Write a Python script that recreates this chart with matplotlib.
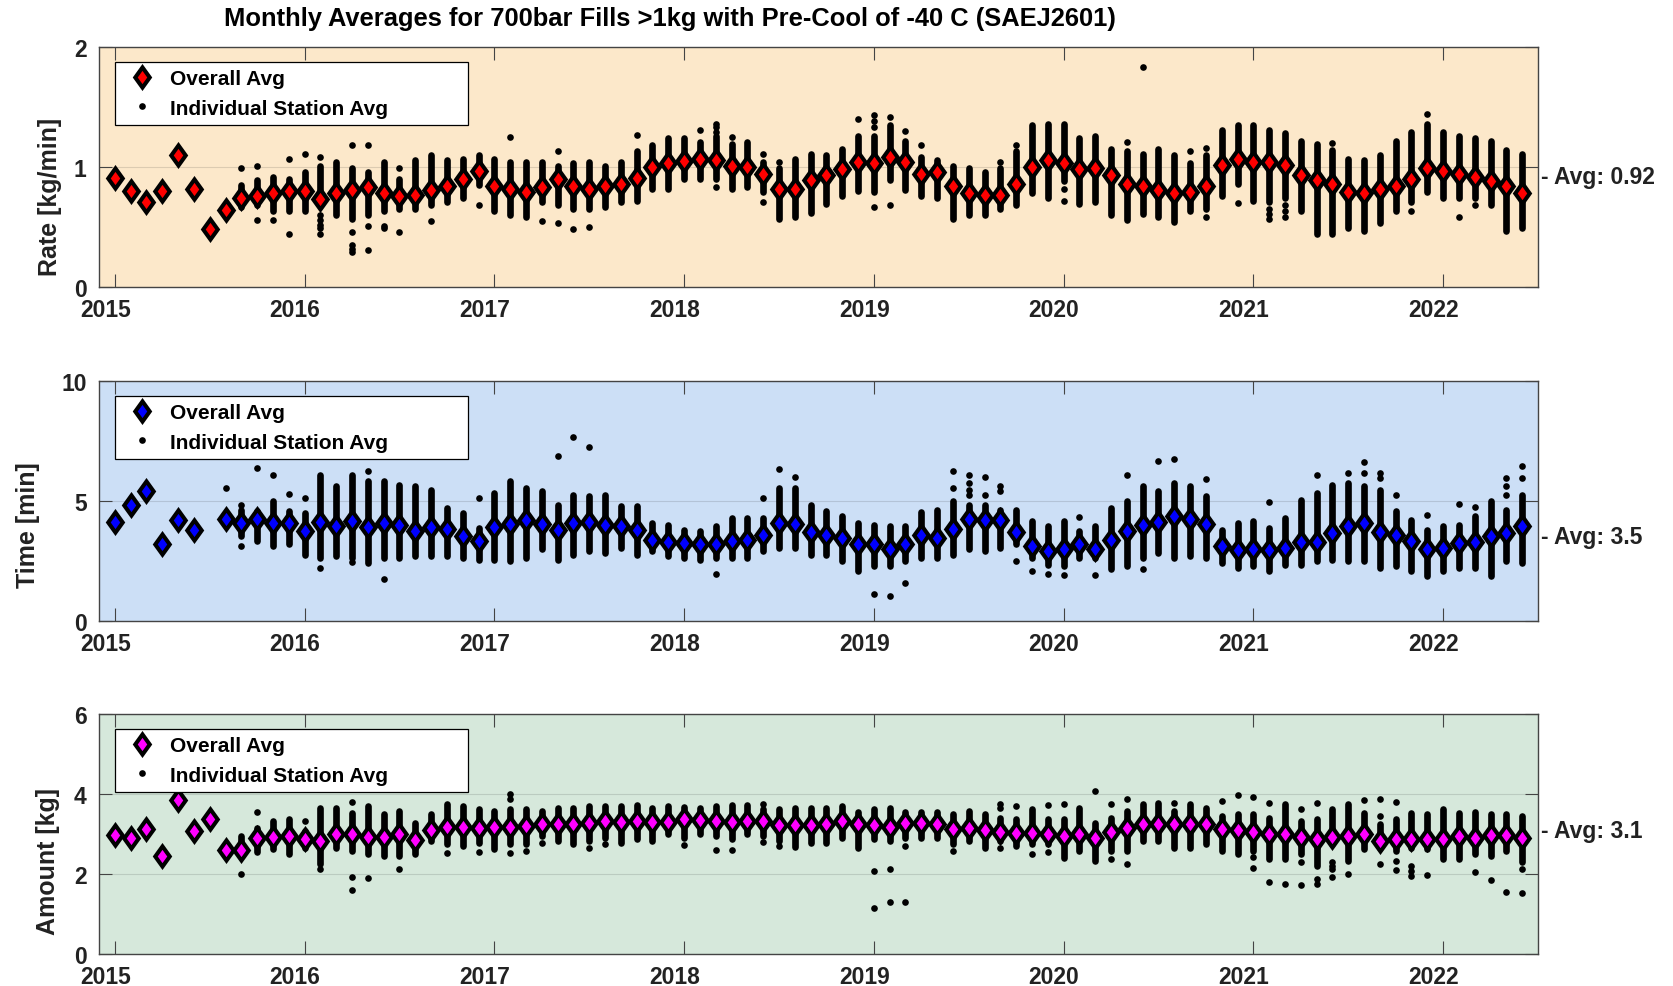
import numpy as np
import matplotlib
matplotlib.use("Agg")
import matplotlib.pyplot as plt
from matplotlib.path import Path
from matplotlib.lines import Line2D
from matplotlib.legend_handler import HandlerTuple
import matplotlib.transforms as mtransforms

plt.rcParams['font.family'] = ['Liberation Sans', 'DejaVu Sans']
plt.rcParams['font.weight'] = 'bold'

N = np.nan
start_year = 2015
n_months = 90  # Jan 2015 .. Jun 2022
year_ticks = [2015, 2016, 2017, 2018, 2019, 2020, 2021, 2022]
year_labels = ['2015', '2016', '2017', '2018', '2019', '2020', '2021', '2022']

title = "Monthly Averages for 700bar Fills >1kg with Pre-Cool of -40 C (SAEJ2601)"

# ---------------- Rate [kg/min] ----------------
rate_avg = [0.91, 0.80, 0.71, 0.80, 1.10, 0.82, 0.48, 0.64, 0.74, 0.76, 0.78, 0.80,
            0.80, 0.73, 0.78, 0.81, 0.83, 0.78, 0.76, 0.77, 0.81, 0.84, 0.90, 0.97,
            0.84, 0.82, 0.79, 0.83, 0.90, 0.84, 0.82, 0.84, 0.86, 0.91, 1.00, 1.03,
            1.05, 1.07, 1.06, 1.01, 1.00, 0.94, 0.82, 0.82, 0.89, 0.93, 0.98, 1.04,
            1.03, 1.08, 1.04, 0.94, 0.96, 0.84, 0.78, 0.77, 0.77, 0.86, 1.00, 1.06,
            1.03, 0.98, 0.99, 0.93, 0.86, 0.84, 0.81, 0.78, 0.79, 0.84, 1.02, 1.07,
            1.04, 1.04, 1.02, 0.93, 0.89, 0.86, 0.79, 0.78, 0.82, 0.84, 0.90, 0.99,
            0.97, 0.94, 0.92, 0.88, 0.84, 0.78]
rate_station_lo = [N, N, N, N, N, N, N, N, 0.67, 0.68, 0.63, 0.63,
                   0.63, 0.68, 0.60, 0.57, 0.60, 0.63, 0.65, 0.65, 0.68, 0.71, 0.74, 0.85,
                   0.63, 0.60, 0.58, 0.71, 0.68, 0.65, 0.65, 0.67, 0.71, 0.72, 0.82, 0.82,
                   0.90, 0.90, 0.90, 0.82, 0.83, 0.79, 0.57, 0.58, 0.62, 0.69, 0.76, 0.80,
                   0.79, 0.89, 0.81, 0.76, 0.74, 0.57, 0.60, 0.60, 0.65, 0.68, 0.78, 0.74,
                   0.88, 0.69, 0.71, 0.60, 0.56, 0.61, 0.58, 0.54, 0.63, 0.65, 0.76, 0.86,
                   0.72, 0.71, 0.74, 0.63, 0.44, 0.44, 0.49, 0.47, 0.53, 0.63, 0.71, 0.79,
                   0.74, 0.74, 0.74, 0.68, 0.47, 0.49]
rate_station_hi = [N, N, N, N, N, N, N, N, 0.85, 0.89, 0.92, 0.90,
                   0.96, 1.01, 1.04, 0.99, 0.96, 1.04, 0.90, 1.06, 1.10, 1.06, 1.07, 1.10,
                   1.07, 1.04, 1.04, 1.04, 1.01, 1.03, 1.04, 1.01, 1.04, 1.13, 1.18, 1.24,
                   1.24, 1.21, 1.26, 1.19, 1.21, 1.04, 0.99, 1.07, 1.11, 1.10, 1.15, 1.26,
                   1.26, 1.35, 1.22, 1.08, 1.06, 1.01, 0.99, 0.96, 0.99, 1.13, 1.35, 1.36,
                   1.36, 1.24, 1.26, 1.15, 1.13, 1.11, 1.15, 1.10, 1.03, 1.10, 1.31, 1.35,
                   1.35, 1.31, 1.28, 1.22, 1.19, 1.14, 1.07, 1.06, 1.10, 1.22, 1.29, 1.36,
                   1.29, 1.26, 1.24, 1.22, 1.14, 1.11]
rate_station_extra = {
    '2015-09': [0.99], '2015-10': [1.01, 0.56], '2015-11': [0.56], '2015-12': [1.07, 0.44],
    '2016-01': [1.11], '2016-02': [1.08, 0.60, 0.56, 0.52, 0.49, 0.44],
    '2016-04': [1.18, 0.46, 0.35, 0.32, 0.29], '2016-05': [1.18, 0.51, 0.31],
    '2016-06': [0.51, 0.49], '2016-07': [0.99, 0.46], '2016-09': [0.55], '2016-12': [0.68],
    '2017-02': [1.25], '2017-04': [0.55], '2017-05': [1.13, 0.53], '2017-06': [0.48],
    '2017-07': [0.50], '2017-10': [1.27], '2018-02': [1.31], '2018-03': [1.36, 1.33, 1.29, 0.83],
    '2018-04': [1.25], '2018-06': [1.11, 0.71], '2018-07': [1.04], '2018-12': [1.40],
    '2019-01': [1.43, 1.38, 1.33, 0.67], '2019-02': [1.42, 0.68], '2019-03': [1.30],
    '2019-04': [1.18], '2019-09': [1.04], '2019-10': [1.18], '2020-01': [0.82, 0.72],
    '2020-05': [1.21], '2020-06': [1.83], '2020-09': [1.13], '2020-10': [1.16, 0.58],
    '2020-12': [0.70], '2021-02': [0.65, 0.61, 0.57], '2021-03': [0.68, 0.63, 0.58],
    '2021-06': [1.20], '2021-11': [0.63], '2021-12': [1.44], '2022-02': [0.58], '2022-03': [0.68],
}

# ---------------- Time [min] ----------------
time_avg = [4.11, 4.85, 5.43, 3.19, 4.22, 3.81, N, 4.27, 4.09, 4.27, 4.09, 4.09,
            3.74, 4.11, 3.95, 4.18, 3.91, 4.09, 4.02, 3.74, 3.91, 3.84, 3.56, 3.32,
            3.91, 4.06, 4.20, 4.06, 3.81, 4.09, 4.13, 3.99, 3.95, 3.78, 3.37, 3.30,
            3.25, 3.19, 3.19, 3.35, 3.37, 3.60, 4.09, 4.06, 3.71, 3.57, 3.46, 3.19,
            3.19, 3.01, 3.19, 3.60, 3.46, 3.85, 4.25, 4.20, 4.22, 3.70, 3.14, 2.91,
            2.98, 3.19, 2.98, 3.39, 3.74, 4.02, 4.13, 4.36, 4.27, 4.06, 3.12, 2.94,
            3.02, 2.94, 3.05, 3.30, 3.30, 3.67, 3.95, 4.09, 3.71, 3.60, 3.35, 3.02,
            3.05, 3.25, 3.28, 3.53, 3.67, 3.95]
time_station_lo = [N, N, N, N, N, N, N, N, 3.53, 3.35, 3.12, 3.19,
                   2.77, 2.63, 2.70, 2.63, 2.42, 2.63, 2.63, 2.70, 2.70, 2.70, 2.63, 2.56,
                   2.56, 2.49, 2.63, 2.98, 2.56, 2.77, 2.91, 2.84, 3.05, 2.77, 2.91, 2.70,
                   2.63, 2.56, 2.63, 2.63, 2.63, 2.91, 3.05, 3.05, 2.77, 2.77, 2.49, 2.08,
                   2.29, 2.29, 2.49, 2.63, 2.63, 2.77, 2.98, 2.91, 3.05, 3.19, 2.63, 2.35,
                   2.29, 2.63, 2.63, 2.15, 2.29, 2.63, 2.84, 2.63, 2.70, 2.63, 2.42, 2.22,
                   2.29, 2.08, 2.35, 2.35, 2.49, 2.56, 2.49, 2.49, 2.22, 2.29, 2.08, 1.87,
                   2.08, 2.22, 2.22, 1.87, 2.49, 2.42]
time_station_hi = [N, N, N, N, N, N, N, N, 4.64, 4.57, 4.99, 4.57,
                   4.50, 6.09, 5.61, 6.09, 5.82, 5.82, 5.68, 5.61, 5.47, 4.71, 4.50, 3.88,
                   5.33, 5.82, 5.54, 5.40, 4.85, 5.26, 5.19, 5.26, 4.78, 4.78, 4.09, 4.02,
                   3.81, 3.74, 3.95, 4.29, 4.29, 4.29, 5.54, 5.54, 4.85, 4.57, 4.36, 4.09,
                   4.02, 3.95, 3.95, 4.54, 4.64, 4.99, 4.85, 4.85, 4.64, 4.64, 4.16, 3.95,
                   4.16, 3.74, 3.95, 4.71, 4.99, 5.61, 5.40, 5.75, 5.61, 5.19, 3.81, 4.09,
                   4.16, 3.88, 4.29, 5.06, 5.33, 5.68, 5.75, 5.61, 5.47, 4.57, 4.22, 3.81,
                   3.95, 4.02, 4.36, 4.99, 4.64, 5.26]
time_station_extra = {
    '2015-08': [5.54], '2015-09': [4.85, 3.12], '2015-10': [6.37], '2015-11': [6.07],
    '2015-12': [5.29], '2016-01': [5.12], '2016-02': [2.22], '2016-04': [2.47],
    '2016-05': [6.23], '2016-06': [1.73], '2016-12': [5.12], '2017-05': [6.86],
    '2017-06': [7.67], '2017-07': [7.27], '2018-03': [1.94], '2018-06': [5.12],
    '2018-07': [6.33], '2018-08': [5.98], '2019-01': [1.11], '2019-02': [1.04],
    '2019-03': [1.59], '2019-06': [6.23, 5.54], '2019-07': [6.09, 5.75, 5.47, 5.26],
    '2019-08': [6.00, 5.26], '2019-09': [5.61, 5.40], '2019-10': [2.52], '2019-11': [2.08],
    '2019-12': [1.97], '2020-01': [1.90], '2020-02': [4.32], '2020-03': [1.90],
    '2020-05': [6.07], '2020-06': [2.17], '2020-07': [6.65], '2020-08': [6.76],
    '2020-10': [5.93], '2021-02': [4.94], '2021-05': [6.09], '2021-07': [6.16],
    '2021-08': [6.61, 6.16], '2021-09': [6.16, 5.96], '2021-10': [5.26], '2021-12': [4.43],
    '2022-02': [4.88], '2022-03': [4.75], '2022-05': [5.96, 5.61, 5.26], '2022-06': [6.44, 5.96],
}

# ---------------- Amount [kg] ----------------
amount_avg = [2.97, 2.91, 3.13, 2.44, 3.84, 3.08, 3.38, 2.60, 2.60, 2.91, 2.93, 2.94,
              2.87, 2.83, 2.99, 2.99, 2.93, 2.93, 3.01, 2.85, 3.10, 3.18, 3.18, 3.16,
              3.18, 3.18, 3.20, 3.26, 3.26, 3.26, 3.28, 3.32, 3.31, 3.32, 3.30, 3.31,
              3.37, 3.35, 3.32, 3.30, 3.32, 3.32, 3.23, 3.23, 3.22, 3.24, 3.32, 3.24,
              3.23, 3.18, 3.28, 3.28, 3.26, 3.12, 3.16, 3.09, 3.06, 3.03, 3.03, 2.99,
              2.95, 3.01, 2.89, 3.06, 3.14, 3.24, 3.24, 3.24, 3.24, 3.24, 3.12, 3.09,
              3.06, 3.01, 3.01, 2.93, 2.87, 2.93, 2.95, 2.99, 2.83, 2.88, 2.87, 2.88,
              2.88, 2.95, 2.91, 2.97, 2.97, 2.89]
amount_station_lo = [N, N, N, N, N, N, N, N, 2.49, 2.54, 2.62, 2.49,
                     2.66, 2.24, 2.66, 2.58, 2.49, 2.45, 2.45, 2.49, 2.83, 2.74, 2.70, 2.78,
                     2.62, 2.74, 2.74, 2.95, 2.83, 2.74, 2.83, 2.91, 2.78, 2.87, 2.83, 2.99,
                     2.91, 2.99, 2.95, 2.87, 2.99, 2.95, 2.83, 2.68, 2.78, 2.78, 2.91, 2.66,
                     2.87, 2.83, 2.91, 2.91, 2.91, 2.74, 2.83, 2.66, 2.83, 2.70, 2.74, 2.74,
                     2.41, 2.58, 2.33, 2.58, 2.58, 2.83, 2.83, 2.66, 2.66, 2.74, 2.58, 2.49,
                     2.58, 2.37, 2.37, 2.49, 2.20, 2.74, 2.33, 2.62, 2.66, 2.58, 2.66, 2.62,
                     2.37, 2.37, 2.49, 2.45, 2.58, 2.29]
amount_station_hi = [N, N, N, N, N, N, N, N, 2.95, 3.16, 3.33, 3.37,
                     3.08, 3.66, 3.66, 3.53, 3.70, 3.49, 3.57, 3.28, 3.49, 3.74, 3.70, 3.62,
                     3.57, 3.62, 3.62, 3.57, 3.66, 3.66, 3.70, 3.70, 3.70, 3.72, 3.66, 3.70,
                     3.67, 3.66, 3.70, 3.72, 3.72, 3.62, 3.62, 3.66, 3.66, 3.66, 3.70, 3.56,
                     3.62, 3.64, 3.56, 3.56, 3.56, 3.49, 3.57, 3.49, 3.41, 3.37, 3.62, 3.37,
                     3.37, 3.66, 3.28, 3.41, 3.57, 3.74, 3.78, 3.57, 3.74, 3.66, 3.45, 3.49,
                     3.49, 3.41, 3.74, 3.32, 3.37, 3.62, 3.74, 3.53, 3.24, 3.37, 3.53, 3.49,
                     3.62, 3.53, 3.56, 3.49, 3.49, 3.45]
amount_station_extra = {
    '2015-09': [1.99], '2015-10': [3.56], '2016-01': [3.33], '2016-02': [2.12],
    '2016-04': [3.81, 1.93, 1.60], '2016-05': [1.90], '2016-07': [2.12], '2016-10': [2.52],
    '2016-12': [2.54], '2017-02': [3.99, 3.88, 2.52], '2017-03': [2.58], '2017-04': [2.77],
    '2017-07': [2.64], '2017-08': [2.76], '2018-01': [2.73], '2018-03': [2.60],
    '2018-04': [2.59], '2018-06': [3.74, 2.81], '2018-07': [2.70], '2019-01': [2.08, 1.15],
    '2019-02': [2.12, 1.29], '2019-03': [2.70, 1.31], '2019-06': [2.58],
    '2019-09': [3.76, 3.66, 2.64], '2019-10': [3.70], '2019-11': [2.49], '2019-12': [3.72, 2.54],
    '2020-01': [3.74], '2020-03': [4.07], '2020-04': [3.76, 2.37], '2020-05': [3.87, 2.24],
    '2020-08': [3.78], '2020-11': [3.82], '2020-12': [3.97], '2021-01': [3.93, 2.43, 2.16],
    '2021-02': [3.78, 1.79], '2021-03': [1.75], '2021-04': [3.62, 2.29, 1.72],
    '2021-05': [3.78, 1.87, 1.75], '2021-06': [2.29, 2.20, 2.12, 1.93], '2021-07': [1.99],
    '2021-08': [3.84], '2021-09': [3.88, 3.45, 2.24], '2021-10': [3.81, 2.33, 2.10],
    '2021-11': [2.20, 2.08, 1.95], '2021-12': [1.98], '2022-03': [2.04], '2022-04': [1.85],
    '2022-05': [1.55], '2022-06': [2.12, 1.52],
}

overall_labels = ['Avg: 0.92', 'Avg: 3.5', 'Avg: 3.1']
overall_values = [0.92, 3.5, 3.1]

# ---------------------------------------------------------------
months = start_year + np.arange(n_months) / 12.0


def ym_to_x(s):
    y, m = s.split('-')
    return int(y) + (int(m) - 1) / 12.0


diamond = Path([(0, 1), (0.72, 0), (0, -1), (-0.72, 0), (0, 1)],
               [Path.MOVETO, Path.LINETO, Path.LINETO, Path.LINETO, Path.CLOSEPOLY])

panels = [
    dict(avg=rate_avg, lo=rate_station_lo, hi=rate_station_hi, extra=rate_station_extra,
         ylabel='Rate [kg/min]', ylim=(0, 2), yticks=[0, 1, 2], bg='#FCE8CA', fc='#FF0000',
         pos=[0.05914, 0.70821, 0.85962, 0.24316], labx=-0.026, laby=0.38),
    dict(avg=time_avg, lo=time_station_lo, hi=time_station_hi, extra=time_station_extra,
         ylabel='Time [min]', ylim=(0, 10), yticks=[0, 5, 10], bg='#CCDFF6', fc='#0000FF',
         pos=[0.05914, 0.36981, 0.85962, 0.24316], labx=-0.041, laby=0.405),
    dict(avg=amount_avg, lo=amount_station_lo, hi=amount_station_hi, extra=amount_station_extra,
         ylabel='Amount [kg]', ylim=(0, 6), yticks=[0, 2, 4, 6], bg='#D6E8DB', fc='#FF00FF',
         pos=[0.05914, 0.03242, 0.85962, 0.24316], labx=-0.027, laby=0.39),
]

fig = plt.figure(figsize=(16.74, 9.87), dpi=100)
txt_col = '#222222'
ms_outer, ms_inner, ms_o = 19.5, 9.5, 4.8
xlab_shift = mtransforms.ScaledTranslation(-9.5 / 100.0, 0, fig.dpi_scale_trans)

for i, p in enumerate(panels):
    ax = fig.add_axes(p['pos'])
    ax.set_facecolor(p['bg'])
    lo = np.array(p['lo'], dtype=float)
    hi = np.array(p['hi'], dtype=float)
    ok = ~np.isnan(lo)
    ax.vlines(months[ok], lo[ok], hi[ok], colors='k', linewidth=ms_o, capstyle='round', zorder=3)
    ex_x, ex_y = [], []
    for k, vals in p['extra'].items():
        for v in vals:
            ex_x.append(ym_to_x(k))
            ex_y.append(v)
    ax.plot(ex_x, ex_y, ls='none', marker='o', ms=ms_o, mfc='k', mec='k', mew=0, zorder=3)
    # overall average: black diamond outline with coloured core
    ax.plot(months, p['avg'], ls='none', marker=diamond, ms=ms_outer, mfc='k', mew=0, zorder=4)
    ax.plot(months, p['avg'], ls='none', marker=diamond, ms=ms_inner, mfc=p['fc'], mew=0, zorder=5)

    ax.set_xlim(start_year - 1 / 12.0, 2022.5)
    ax.set_ylim(*p['ylim'])
    ax.set_xticks(year_ticks)
    ax.set_xticklabels(year_labels)
    ax.set_yticks(p['yticks'])
    ax.set_yticklabels([str(t) for t in p['yticks']])
    ax.tick_params(axis='both', direction='in', length=9.5, width=0.8, top=True, right=True,
                   labelsize=16.5, labelcolor=txt_col, color='#444444')
    ax.tick_params(axis='x', pad=8)
    ax.tick_params(axis='y', pad=9)
    for lab in ax.get_xticklabels():
        lab.set_fontweight('bold')
        lab.set_transform(lab.get_transform() + xlab_shift)
    for lab in ax.get_yticklabels():
        lab.set_fontweight('bold')
    for sp in ax.spines.values():
        sp.set_color('#444444')
        sp.set_linewidth(1.0)
    ax.yaxis.grid(True, color='#262626', alpha=0.15, linewidth=0.8)
    ax.set_axisbelow(True)
    ax.set_ylabel(p['ylabel'], fontsize=18, fontweight='bold', color=txt_col)
    ax.yaxis.set_label_coords(p['labx'], p['laby'])

    tr = mtransforms.blended_transform_factory(ax.transAxes, ax.transData)
    ax.text(1.002, overall_values[i], '- ' + overall_labels[i], transform=tr, ha='left',
            va='center', fontsize=16.5, fontweight='bold', color=txt_col)

    h_outer = Line2D([], [], ls='none', marker=diamond, ms=ms_outer, mfc='k', mew=0)
    h_inner = Line2D([], [], ls='none', marker=diamond, ms=ms_inner, mfc=p['fc'], mew=0)
    h_dot = Line2D([], [], ls='none', marker='o', ms=ms_o, mfc='k', mec='k', mew=0)
    leg = ax.legend([(h_outer, h_inner), h_dot], ['Overall Avg', 'Individual Station Avg'],
                    handler_map={tuple: HandlerTuple(ndivide=1, pad=0)},
                    loc='upper left', bbox_to_anchor=(0.0111, 0.3, 0.2453, 0.6375), mode='expand',
                    borderaxespad=0, fancybox=False, framealpha=1, edgecolor='k',
                    prop={'size': 15, 'weight': 'bold'}, borderpad=0.35, labelspacing=0.5,
                    handlelength=1.9, handletextpad=0.4)
    leg.get_frame().set_linewidth(0.9)
    leg.set_zorder(10)

fig.text(0.40, 0.981, title, ha='center', va='center', fontsize=18.4, fontweight='bold', color='k')

fig.savefig('out.png', dpi=100)
